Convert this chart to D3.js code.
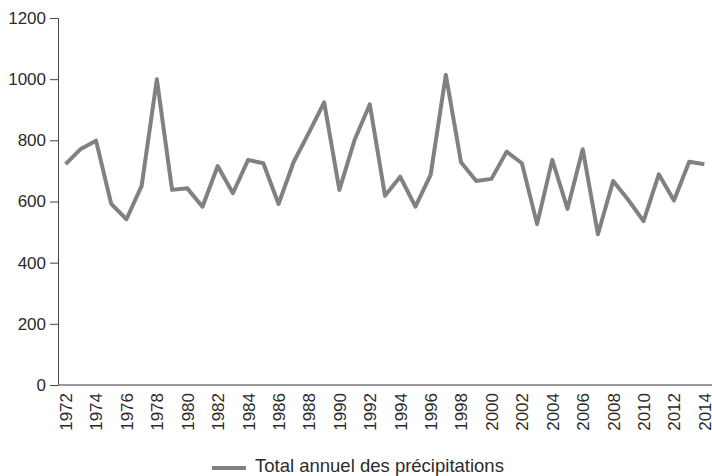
<!DOCTYPE html>
<html>
<head>
<meta charset="utf-8">
<script src="https://cdn.jsdelivr.net/npm/d3@7"></script>
<style>
  body { margin: 0; background: #fff; }
  text { font-family: "Liberation Sans", Arial, sans-serif; fill: #2b2b2b; }
</style>
</head>
<body>
<script>
"use strict";

var width = 712;
var height = 476;
var padLeft = 58;
var padTop = 18;
var axisY = 385;

// Data
var years = [];
for (var yr = 1972; yr <= 2014; yr++) years.push(yr);
var precip = [722, 772, 799, 592, 542, 651, 1000, 638, 643, 583,
  716, 627, 736, 725, 592, 730, 825, 924, 638, 801,
  918, 619, 681, 583, 687, 1014, 728, 667, 674, 763,
  725, 526, 736, 576, 771, 493, 667, 605, 536, 689,
  603, 730, 722];
var yTicks = [0, 200, 400, 600, 800, 1000, 1200];
var legendLabel = "Total annuel des précipitations";

var svg = d3.select("body").append("svg").attr("width", width).attr("height", height);

// Scales
var xScale = d3.scalePoint().domain(years).range([padLeft, width]).padding(0.5);
var yScale = d3.scaleLinear().domain([0, 1200]).range([axisY, padTop]);

// Axes
var yAxis = d3.axisLeft(yScale).tickValues(yTicks).tickFormat(d3.format("d"))
  .tickSize(8).tickPadding(4);
var gy = svg.append("g").attr("transform", "translate(" + padLeft + ",0)").call(yAxis);
gy.select(".domain").attr("stroke", "#444");
gy.selectAll(".tick line").attr("stroke", "#444");
gy.selectAll(".tick text").style("font-size", "17px").attr("fill", "#2b2b2b");

var xAxis = d3.axisBottom(xScale)
  .tickValues(years.filter(function (d) { return d % 2 === 0; }))
  .tickSize(0).tickSizeOuter(0);
var gx = svg.append("g").attr("transform", "translate(0," + axisY + ")").call(xAxis);
gx.select(".domain").attr("stroke", "#777").attr("stroke-width", 1.5)
  .attr("d", "M" + padLeft + ",0H" + width);
gx.selectAll(".tick text")
  .style("font-size", "17px")
  .attr("fill", "#2b2b2b")
  .attr("text-anchor", "end")
  .attr("transform", "rotate(-90)")
  .attr("x", -8)
  .attr("y", 0)
  .attr("dy", "0.35em");

// Line
var line = d3.line()
  .x(function (d, i) { return xScale(years[i]); })
  .y(function (d) { return yScale(d); });

svg.append("path")
  .datum(precip)
  .attr("d", line)
  .attr("fill", "none")
  .attr("stroke", "#808184")
  .attr("stroke-width", 4)
  .attr("stroke-linejoin", "round");

// Legend
var lg = svg.append("g").attr("transform", "translate(212,468)");
lg.append("line").attr("x1", 0).attr("x2", 34).attr("y1", 0).attr("y2", 0)
  .attr("stroke", "#808184").attr("stroke-width", 4);
lg.append("text").attr("x", 43).attr("y", 4)
  .style("font-size", "18.5px").text(legendLabel);
</script>
</body>
</html>
